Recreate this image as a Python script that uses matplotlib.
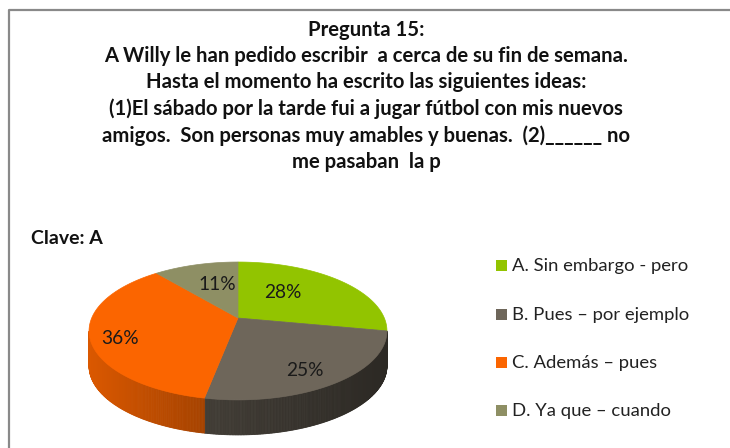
import numpy as np
import matplotlib.pyplot as plt
from matplotlib.patches import Polygon
import matplotlib.colors as mcolors

## datos
labels = ['A. Sin embargo - pero', 'B. Pues \u2013 por ejemplo',
          'C. Además \u2013 pues', 'D. Ya que \u2013 cuando']
values = [28, 25, 36, 11]
pct_text = ['28%', '25%', '36%', '11%']
colors = ['#92C400', '#6E665A', '#FB6500', '#8E8F64']

title = ('Pregunta 15:\n'
         'A Willy le han pedido escribir  a cerca de su fin de semana.\n'
         'Hasta el momento ha escrito las siguientes ideas:\n'
         '(1)El sábado por la tarde fui a jugar fútbol con mis nuevos\n'
         'amigos.  Son personas muy amables y buenas.  (2)______ no\n'
         'me pasaban  la p')

plt.rcParams['font.family'] = ['Lato', 'DejaVu Sans']

W, H = 730, 448
fig = plt.figure(figsize=(W / 100, H / 100), dpi=100)
ax = fig.add_axes([0, 0, 1, 1])
ax.set_xlim(0, W)
ax.set_ylim(H, 0)
ax.axis('off')

# marco
ax.plot([9, 9, W], [H, 10.5, 10.5], color='#898989', lw=1.6, solid_capstyle='butt')

## pastel 3D con perspectiva (pixeles)
cx, cy = 238, 318        # centro proyectado
A, B, p = 146.3, 66.5, 0.188
depth = 35

def pt(theta):
    # angulo en grados, 0 = atras (arriba), sentido horario
    t = np.radians(theta)
    w = 1 + p * np.cos(t)
    return cx + A * np.sin(t) / w, cy - B * np.cos(t) / w

fracs = np.array(values, float) / sum(values)
edges = np.concatenate([[0], np.cumsum(fracs) * 360])

def shade(c, f):
    r, g, b = mcolors.to_rgb(c)
    return (r * f, g * f, b * f)

# limites de la silueta (cos = -p)
s0 = np.degrees(np.arccos(-p))
s1 = 360 - s0
side_f = {1: (0.60, 0.40), 2: (0.87, 0.66)}

for i, col in enumerate(colors):
    a0, a1 = max(edges[i], s0), min(edges[i + 1], s1)
    if a1 <= a0:
        continue
    angs = np.linspace(a0, a1, int((a1 - a0) * 2) + 2)
    xs = [pt(a)[0] for a in angs]
    xl, xr = min(xs), max(xs)
    fl, fr = side_f.get(i, (0.8, 0.6))
    for j in range(len(angs) - 1):
        x0, y0 = pt(angs[j])
        x1, y1 = pt(angs[j + 1])
        u = (0.5 * (x0 + x1) - xl) / max(xr - xl, 1)
        f = fl + (fr - fl) * u
        ax.add_patch(Polygon([(x0, y0), (x1, y1), (x1, y1 + depth), (x0, y0 + depth)],
                             closed=True, fc=shade(col, f), ec=shade(col, f), lw=0.6))

# cara superior
for i, col in enumerate(colors):
    angs = np.linspace(edges[i], edges[i + 1], 100)
    pts = [(cx, cy)] + [pt(a) for a in angs]
    ax.add_patch(Polygon(pts, closed=True, fc=col, ec=col, lw=0.5))

# etiquetas de porcentaje
lab_pos = [(283, 292), (305, 371), (120, 339), (217, 285)]
for (x, y), t in zip(lab_pos, pct_text):
    ax.text(x, y, t, ha='center', va='center', fontsize=13.8, color='#1a1a1a')

# titulo
ax.text(366, 96, title, ha='center', va='center', fontsize=14.6, fontweight='bold',
        linespacing=1.38, color='#111111')
ax.text(31, 239, 'Clave: A', ha='left', va='center', fontsize=14, fontweight='bold',
        color='#111111')

# leyenda
leg_y = [266, 315, 363, 411]
for y, lab, col in zip(leg_y, labels, colors):
    ax.add_patch(Polygon([(496, y - 5.5), (507, y - 5.5), (507, y + 5.5), (496, y + 5.5)],
                         closed=True, fc=col, ec='none'))
    ax.text(512, y, lab, ha='left', va='center', fontsize=13.3, color='#222222')

fig.savefig('out.png', dpi=100)
